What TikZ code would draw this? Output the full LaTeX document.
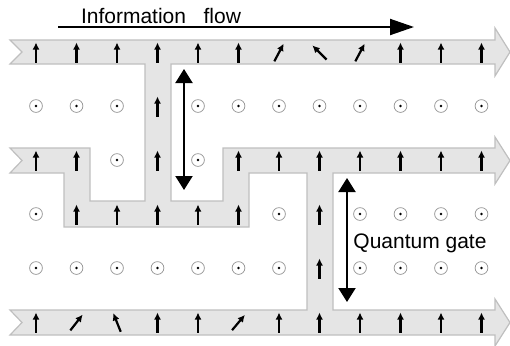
\documentclass[tikz,border=0pt]{standalone}
\usepackage{fontspec}
\setmainfont{Liberation Sans}
\usetikzlibrary{arrows.meta, positioning}

\begin{document}
\begin{tikzpicture}[
        x=0.5pt, y=-0.5pt,
        rail/.style={fill=gray!20, draw=gray!50, line width=0.6pt},
        spin/.style={-{Latex[length=3.6pt,width=3.6pt]}, line width=1.1pt},
        site/.style={circle, draw=gray!85, line width=0.35pt, minimum size=6.4pt, inner sep=0pt,
            path picture={\fill (path picture bounding box.center) circle (0.65pt);}},
        gate/.style={{Triangle[length=7pt,width=8.5pt]}-{Triangle[length=7pt,width=8.5pt]}, line width=1pt},
        flow/.style={-{Triangle[length=12pt,width=8pt]}, line width=1pt},
        txt/.style={font=\fontsize{10.5}{12}\selectfont, inner sep=0pt}]

        \useasboundingbox (0,0) rectangle (510,345);

        \draw[rail] (10,40) -- (495,40) -- (495,28) -- (510,52) -- (495,76) -- (495,64)
            -- (171,64) -- (171,201) -- (223,201) -- (223,148) -- (495,148) -- (495,137)
            -- (510,160.5) -- (495,184) -- (495,173) -- (333,173) -- (333,310) -- (495,310)
            -- (495,299) -- (510,322.5) -- (495,346) -- (495,335) -- (10,335) -- (22,322.5)
            -- (10,310) -- (307,310) -- (307,173) -- (249,173) -- (249,227) -- (64,227)
            -- (64,173) -- (10,173) -- (22,160.5) -- (10,148) -- (90,148) -- (90,201)
            -- (145,201) -- (145,64) -- (10,64) -- (22,52) -- cycle;

        \foreach \r/\c in {1/0,1/1,1/2,1/4,1/5,1/6,1/7,1/8,1/9,1/10,1/11,
                2/2,2/4, 3/0,3/6,3/8,3/9,3/10,3/11,
                4/0,4/1,4/2,4/3,4/4,4/5,4/6,4/8,4/9,4/10,4/11}
            \node[site] (d-\r-\c) at (36+40.5*\c, 52+54*\r) {};

        \foreach \r/\c/\t in {0/0/0,0/1/0,0/2/0,0/3/0,0/4/0,0/5/0,0/6/28,0/7/-45,0/8/28,0/9/0,0/10/0,0/11/0,
                1/3/0, 2/0/0,2/1/0,2/3/0,2/5/0,2/6/0,2/7/0,2/8/0,2/9/0,2/10/0,2/11/0,
                3/1/0,3/2/0,3/3/0,3/4/0,3/5/0,3/7/0, 4/7/0,
                5/0/0,5/1/38,5/2/-22,5/3/0,5/4/0,5/5/40,5/6/0,5/7/0,5/8/0,5/9/0,5/10/0,5/11/0}
        {
            \coordinate (s-\r-\c) at (36+40.5*\c, 52.5+54*\r);
            \draw[spin] (s-\r-\c) ++(\t+90:10) -- ++(\t-90:20);
        }

        \coordinate (flowstart) at (58,27);
        \coordinate (flowend) at (414,27);
        \draw[flow] (flowstart) -- (flowend);
        \node[txt] (info) at (161,15.5) {Information~~~flow};

        \coordinate (gateAtop) at (184,69);
        \coordinate (gateAbot) at (184,190);
        \draw[gate] (gateAtop) -- (gateAbot);

        \coordinate (gateBtop) at (347,178);
        \coordinate (gateBbot) at (347,302);
        \draw[gate] (gateBtop) -- (gateBbot);
        \node[txt] (gate) at (420,243.5) {Quantum gate};

    \end{tikzpicture}
\end{document}
